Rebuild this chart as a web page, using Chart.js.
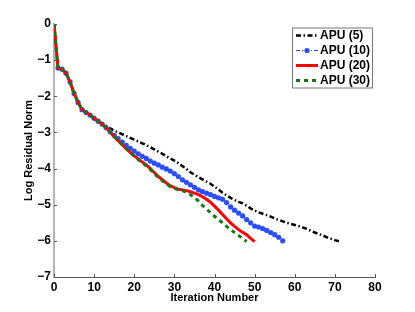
<!DOCTYPE html>
<html>
<head>
<meta charset="utf-8">
<script src="https://cdn.jsdelivr.net/npm/chart.js@4/dist/chart.umd.min.js"></script>
<style>
    html, body { margin: 0; padding: 0; background: #fff; }
    #wrap { width: 415px; height: 312px; }
</style>
</head>
<body>
<div id="wrap"><canvas id="residualChart" width="415" height="312"></canvas></div>
<script>
const iterations = [0, 1, 2, 3, 4, 5, 6, 7, 8, 9, 10, 11, 12, 13, 14, 15, 16, 17, 18, 19,
    20, 21, 22, 23, 24, 25, 26, 27, 28, 29, 30, 31, 32, 33, 34, 35, 36, 37, 38, 39,
    40, 41, 42, 43, 44, 45, 46, 47, 48, 49, 50, 51, 52, 53, 54, 55, 56, 57, 58, 59,
    60, 61, 62, 63, 64, 65, 66, 67, 68, 69, 70, 71];

const apu5 = [0, -1.22, -1.25, -1.36, -1.6, -1.92, -2.17, -2.37, -2.45, -2.52, -2.6, -2.68, -2.76,
    -2.82, -2.89, -2.95, -3.0, -3.05, -3.1, -3.15, -3.2, -3.25, -3.3, -3.35, -3.41, -3.47, -3.53,
    -3.59, -3.66, -3.72, -3.78, -3.85, -3.93, -4.01, -4.1, -4.17, -4.24, -4.3, -4.36, -4.42, -4.5,
    -4.58, -4.67, -4.74, -4.81, -4.87, -4.92, -4.96, -5.03, -5.1, -5.16, -5.21, -5.25, -5.29, -5.33,
    -5.38, -5.42, -5.46, -5.5, -5.53, -5.56, -5.59, -5.63, -5.67, -5.72, -5.77, -5.81, -5.85, -5.9,
    -5.94, -5.98, -6.01];

const apu10 = [0, -1.22, -1.25, -1.36, -1.6, -1.92, -2.17, -2.37, -2.45, -2.52, -2.61, -2.69, -2.77,
    -2.87, -2.98, -3.08, -3.17, -3.27, -3.36, -3.44, -3.52, -3.59, -3.66, -3.72, -3.79, -3.85, -3.9,
    -3.96, -4.01, -4.07, -4.14, -4.22, -4.31, -4.38, -4.45, -4.52, -4.59, -4.64, -4.68, -4.72, -4.77,
    -4.81, -4.85, -4.94, -5.06, -5.15, -5.23, -5.31, -5.41, -5.5, -5.59, -5.62, -5.66, -5.71, -5.77,
    -5.83, -5.9, -6.0];

const apu20 = [0, -1.22, -1.25, -1.36, -1.6, -1.92, -2.17, -2.37, -2.45, -2.52, -2.61, -2.69, -2.77,
    -2.87, -2.99, -3.12, -3.23, -3.34, -3.45, -3.55, -3.65, -3.73, -3.82, -3.9, -4.0, -4.11, -4.22,
    -4.31, -4.4, -4.48, -4.53, -4.57, -4.59, -4.61, -4.64, -4.68, -4.72, -4.78, -4.85, -4.93, -5.04,
    -5.15, -5.27, -5.39, -5.5, -5.6, -5.69, -5.76, -5.83, -5.93, -6.02];

const apu30 = [0, -1.22, -1.25, -1.36, -1.6, -1.92, -2.17, -2.37, -2.45, -2.52, -2.61, -2.69, -2.77,
    -2.87, -2.99, -3.12, -3.23, -3.34, -3.45, -3.56, -3.66, -3.75, -3.84, -3.93, -4.03, -4.14, -4.25,
    -4.34, -4.43, -4.5, -4.55, -4.58, -4.61, -4.66, -4.72, -4.8, -4.9, -5.02, -5.12, -5.22, -5.32,
    -5.41, -5.5, -5.6, -5.68, -5.77, -5.85, -5.94, -6.02];

const seriesNames = ["APU (5)", "APU (10)", "APU (20)", "APU (30)"];
const xTicks = [0, 10, 20, 30, 40, 50, 60, 70, 80];
const yTicks = [0, -1, -2, -3, -4, -5, -6, -7];

const font = "'Liberation Sans', Arial, Helvetica, sans-serif";

// legend drawn inside the plot, plus MATLAB style inward ticks
const matlabBits = {
    id: "matlabBits",
    afterDraw(chart) {
        const ctx = chart.ctx;
        const area = chart.chartArea;
        const xs = chart.scales.x;
        const ys = chart.scales.y;

        ctx.save();
        ctx.strokeStyle = "#555";
        ctx.lineWidth = 1;
        ctx.beginPath();
        xTicks.forEach(t => {
            const px = Math.round(xs.getPixelForValue(t)) + 0.5;
            ctx.moveTo(px, area.bottom);
            ctx.lineTo(px, area.bottom - 3);
        });
        yTicks.forEach(t => {
            const py = Math.round(ys.getPixelForValue(t)) + 0.5;
            ctx.moveTo(area.left, py);
            ctx.lineTo(area.left + 3, py);
        });
        ctx.stroke();

        // legend box
        const bx = 292, by = 27.5, bw = 80, bh = 60;
        ctx.fillStyle = "#fff";
        ctx.fillRect(bx, by, bw, bh);
        ctx.strokeStyle = "#777";
        ctx.lineWidth = 1;
        ctx.strokeRect(bx + 0.5, by + 0.5, bw, bh);

        chart.data.datasets.forEach((ds, i) => {
            const y = by + 8 + i * 15;
            ctx.save();
            ctx.strokeStyle = ds.borderColor;
            ctx.lineWidth = ds.borderWidth;
            ctx.setLineDash(ds.borderDash || []);
            ctx.beginPath();
            ctx.moveTo(bx + 4, y);
            ctx.lineTo(bx + 26, y);
            ctx.stroke();
            if (ds.pointRadius > 0) {
                ctx.fillStyle = ds.pointBackgroundColor;
                ctx.beginPath();
                ctx.arc(bx + 15, y, ds.pointRadius, 0, Math.PI * 2);
                ctx.fill();
            }
            ctx.restore();
            ctx.fillStyle = "#000";
            ctx.font = "bold 12px " + font;
            ctx.textBaseline = "middle";
            ctx.fillText(ds.label, bx + 28, y + 0.5);
        });
        ctx.restore();
    }
};

function renderChart() {
    const ctx = document.getElementById("residualChart").getContext("2d");
    new Chart(ctx, {
        type: "line",
        data: {
            labels: iterations,
            datasets: [
                {
                    label: seriesNames[0],
                    data: apu5,
                    borderColor: "#000",
                    borderWidth: 2.5,
                    borderDash: [5, 2.5, 1.5, 2.5],
                    pointRadius: 0,
                    order: 4
                },
                {
                    label: seriesNames[1],
                    data: apu10,
                    borderColor: "#2a4dff",
                    borderWidth: 1,
                    borderDash: [4, 2, 1, 2],
                    pointRadius: 2.6,
                    pointBorderWidth: 0,
                    pointBackgroundColor: "#2a4dff",
                    pointBorderColor: "#2a4dff",
                    order: 3
                },
                {
                    label: seriesNames[2],
                    data: apu20,
                    borderColor: "#ff0000",
                    borderWidth: 3,
                    pointRadius: 0,
                    order: 2
                },
                {
                    label: seriesNames[3],
                    data: apu30,
                    borderColor: "#137a13",
                    borderWidth: 3,
                    borderDash: [4, 4],
                    pointRadius: 0,
                    order: 1
                }
            ]
        },
        options: {
            responsive: false,
            animation: false,
            layout: { padding: { top: 24, right: 40, bottom: 7, left: 22 } },
            plugins: { legend: { display: false }, tooltip: { enabled: false } },
            scales: {
                x: {
                    type: "linear",
                    min: 0,
                    max: 80,
                    afterFit: s => { s.height = 28; },
                    afterBuildTicks: s => { s.ticks = xTicks.map(v => ({ value: v })); },
                    grid: { display: false, drawTicks: false },
                    border: { display: true, color: "#555", width: 1 },
                    ticks: {
                        padding: 3,
                        color: "#000",
                        font: { family: font, size: 12, weight: "bold" },
                        maxRotation: 0
                    },
                    title: {
                        display: true,
                        text: "Iteration Number",
                        color: "#000",
                        padding: 0,
                        font: { family: font, size: 11, weight: "bold" }
                    }
                },
                y: {
                    min: -7,
                    max: 0,
                    afterFit: s => { s.width = 32; },
                    afterBuildTicks: s => { s.ticks = yTicks.map(v => ({ value: v })); },
                    grid: { display: false, drawTicks: false },
                    border: { display: true, color: "#b5b5b5", width: 2 },
                    ticks: {
                        padding: 3,
                        color: "#000",
                        font: { family: font, size: 12, weight: "bold" },
                        callback: v => (v < 0 ? "\u2212" + Math.abs(v) : String(v))
                    },
                    title: {
                        display: true,
                        text: "Log Residual Norm",
                        color: "#000",
                        padding: 0,
                        font: { family: font, size: 11, weight: "bold" }
                    }
                }
            }
        },
        plugins: [matlabBits]
    });
}

document.addEventListener("DOMContentLoaded", () => {
    renderChart();
});
</script>
</body>
</html>
